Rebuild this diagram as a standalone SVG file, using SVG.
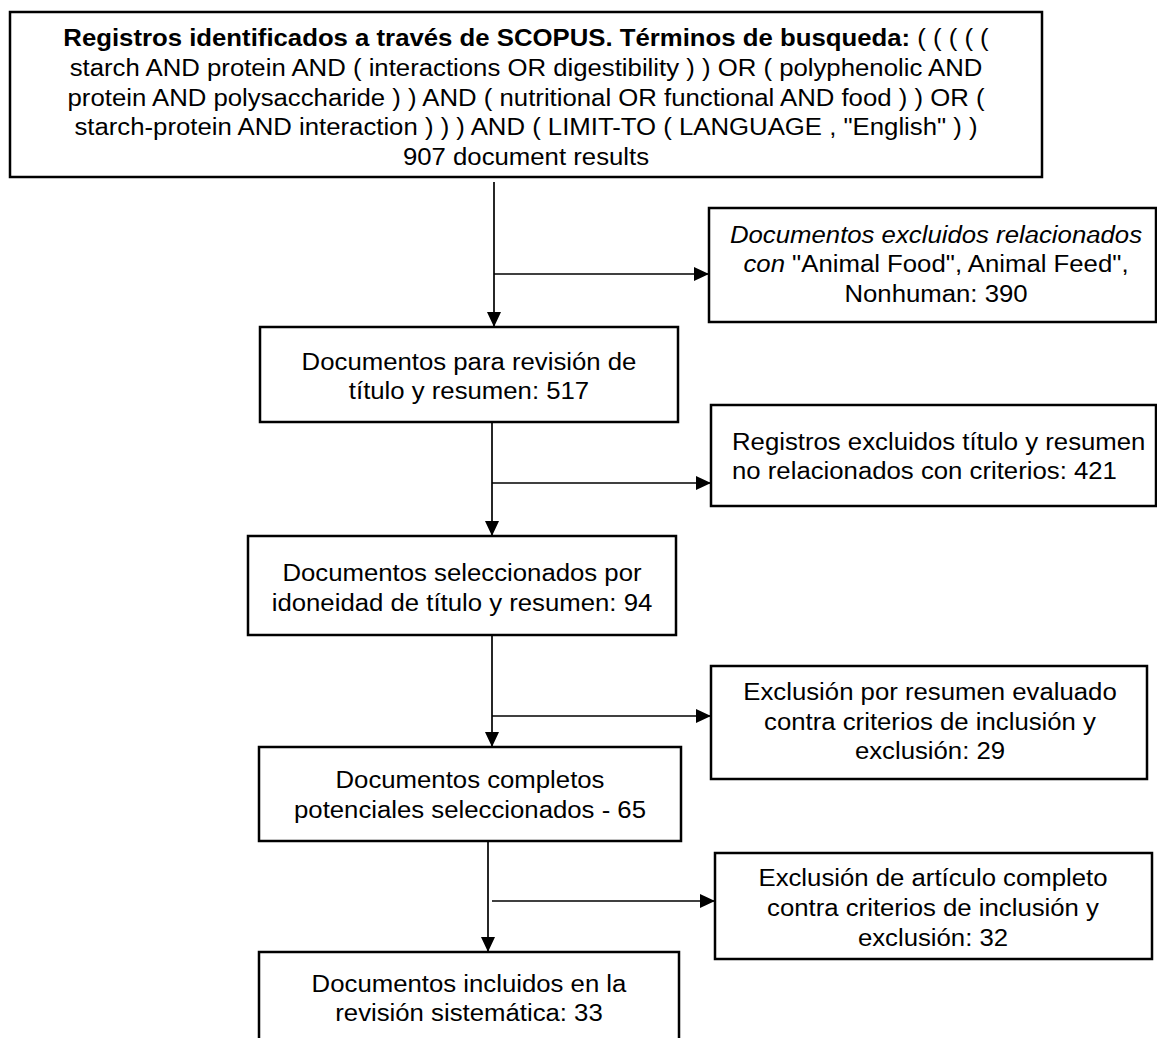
<svg xmlns="http://www.w3.org/2000/svg" width="1157" height="1038" viewBox="0 0 1157 1038">
<style>
  .box { fill: #ffffff; stroke: #000000; stroke-width: 2.5; }
  .t { font-family: "Liberation Sans", Arial, sans-serif; font-size: 23.3px; fill: #000000; }
  .c { text-anchor: middle; }
  .s { text-anchor: start; }
  .b { font-weight: bold; }
  .i { font-style: italic; }
  .conn { stroke: #000000; stroke-width: 1.7; fill: none; }
</style>
<defs>
  <marker id="arrow" markerUnits="userSpaceOnUse" markerWidth="16" markerHeight="15" refX="15" refY="7" orient="auto">
    <path d="M0,0 L15,7 L0,14 Z" fill="#000000"/>
  </marker>
</defs>
<rect width="1157" height="1038" fill="#ffffff"/>

<g id="connectors">
  <line class="conn" x1="494" y1="182" x2="494" y2="327" marker-end="url(#arrow)"/>
  <line class="conn" x1="494" y1="274" x2="709" y2="274" marker-end="url(#arrow)"/>
  <line class="conn" x1="492" y1="422" x2="492" y2="536" marker-end="url(#arrow)"/>
  <line class="conn" x1="492" y1="483" x2="711" y2="483" marker-end="url(#arrow)"/>
  <line class="conn" x1="492" y1="635" x2="492" y2="747" marker-end="url(#arrow)"/>
  <line class="conn" x1="492" y1="716" x2="711" y2="716" marker-end="url(#arrow)"/>
  <line class="conn" x1="488" y1="841" x2="488" y2="952" marker-end="url(#arrow)"/>
  <line class="conn" x1="492" y1="901" x2="715" y2="901" marker-end="url(#arrow)"/>
</g>

<g id="node-scopus">
  <rect class="box" x="10" y="12" width="1032" height="165"/>
  <g transform="translate(526 0) scale(1.105 1)">
    <text class="t c" x="0" y="46"><tspan class="b">Registros identificados a través de SCOPUS. Términos de busqueda:</tspan> ( ( ( ( (</text>
    <text class="t c" x="0" y="76">starch AND protein AND ( interactions OR digestibility ) ) OR ( polyphenolic AND</text>
    <text class="t c" x="0" y="106">protein AND polysaccharide ) ) AND ( nutritional OR functional AND food ) ) OR (</text>
    <text class="t c" x="0" y="135">starch-protein AND interaction ) ) ) AND ( LIMIT-TO ( LANGUAGE , "English" ) )</text>
    <text class="t c" x="0" y="165">907 document results</text>
  </g>
</g>

<g id="node-excluded-animal">
  <rect class="box" x="709" y="208" width="447" height="114"/>
  <g transform="translate(936 0) scale(1.105 1)">
    <text class="t c i" x="0" y="243">Documentos excluidos relacionados</text>
    <text class="t c" x="0" y="272"><tspan class="i">con</tspan> "Animal Food", Animal Feed",</text>
    <text class="t c" x="0" y="302">Nonhuman: 390</text>
  </g>
</g>

<g id="node-review-517">
  <rect class="box" x="260" y="327" width="418" height="95"/>
  <g transform="translate(469 0) scale(1.105 1)">
    <text class="t c" x="0" y="370">Documentos para revisión de</text>
    <text class="t c" x="0" y="399">título y resumen: 517</text>
  </g>
</g>

<g id="node-excluded-421">
  <rect class="box" x="711" y="405" width="445" height="101"/>
  <g transform="translate(732 0) scale(1.105 1)">
    <text class="t s" x="0" y="450">Registros excluidos título y resumen</text>
    <text class="t s" x="0" y="479">no relacionados con criterios: 421</text>
  </g>
</g>

<g id="node-selected-94">
  <rect class="box" x="248" y="536" width="428" height="99"/>
  <g transform="translate(462 0) scale(1.105 1)">
    <text class="t c" x="0" y="581">Documentos seleccionados por</text>
    <text class="t c" x="0" y="611">idoneidad de título y resumen: 94</text>
  </g>
</g>

<g id="node-excluded-29">
  <rect class="box" x="711" y="666" width="436" height="113"/>
  <g transform="translate(930 0) scale(1.105 1)">
    <text class="t c" x="0" y="700">Exclusión por resumen evaluado</text>
    <text class="t c" x="0" y="730">contra criterios de inclusión y</text>
    <text class="t c" x="0" y="759">exclusión: 29</text>
  </g>
</g>

<g id="node-full-65">
  <rect class="box" x="259" y="747" width="422" height="94"/>
  <g transform="translate(470 0) scale(1.105 1)">
    <text class="t c" x="0" y="788">Documentos completos</text>
    <text class="t c" x="0" y="818">potenciales seleccionados - 65</text>
  </g>
</g>

<g id="node-excluded-32">
  <rect class="box" x="715" y="853" width="437" height="106"/>
  <g transform="translate(933 0) scale(1.105 1)">
    <text class="t c" x="0" y="886">Exclusión de artículo completo</text>
    <text class="t c" x="0" y="916">contra criterios de inclusión y</text>
    <text class="t c" x="0" y="946">exclusión: 32</text>
  </g>
</g>

<g id="node-included-33">
  <rect class="box" x="259" y="952" width="420" height="95"/>
  <g transform="translate(469 0) scale(1.105 1)">
    <text class="t c" x="0" y="992">Documentos incluidos en la</text>
    <text class="t c" x="0" y="1021">revisión sistemática: 33</text>
  </g>
</g>
</svg>
